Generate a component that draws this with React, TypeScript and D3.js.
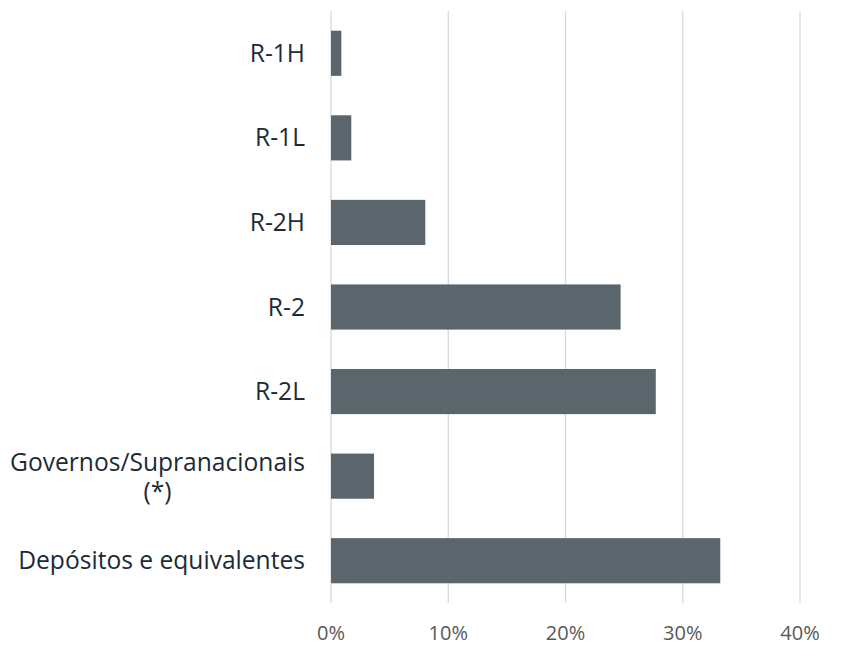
import React, { useEffect, useRef } from "react";
import * as d3 from "d3";

const categories: string[][] = [
  ["R-1H"],
  ["R-1L"],
  ["R-2H"],
  ["R-2"],
  ["R-2L"],
  ["Governos/Supranacionais", "(*)"],
  ["Depósitos e equivalentes"],
];
const values: number[] = [0.88, 1.73, 8.04, 24.7, 27.7, 3.67, 33.2];
const xTicks: number[] = [0, 10, 20, 30, 40];

const W = 843;
const H = 646;
const FONT = "'Open Sans', 'Noto Sans', sans-serif";

export default function App() {
  const ref = useRef<SVGSVGElement>(null);

  useEffect(() => {
    const svg = d3.select(ref.current);
    svg.selectAll("*").remove();

    const x = d3.scaleLinear().domain([0, 40]).range([331, 800]);
    const keys = categories.map((_, i) => String(i));
    const y = d3
      .scaleBand<string>()
      .domain(keys)
      .range([11, 603])
      .paddingInner(0.466)
      .paddingOuter(0.233);

    // grid
    svg
      .append("g")
      .selectAll("line")
      .data(xTicks)
      .join("line")
      .attr("x1", (d) => x(d))
      .attr("x2", (d) => x(d))
      .attr("y1", 11)
      .attr("y2", 603)
      .attr("stroke", "#d9d9d9")
      .attr("stroke-width", 1.3);

    // bars
    svg
      .append("g")
      .selectAll("rect")
      .data(values)
      .join("rect")
      .attr("x", x(0))
      .attr("y", (_, i) => y(keys[i])!)
      .attr("width", (d) => x(d) - x(0))
      .attr("height", y.bandwidth())
      .attr("fill", "#5b666c");

    // x tick labels
    svg
      .append("g")
      .selectAll("text")
      .data(xTicks)
      .join("text")
      .attr("x", (d) => x(d))
      .attr("y", 633)
      .attr("dy", "0.35em")
      .attr("text-anchor", "middle")
      .attr("font-family", FONT)
      .attr("font-size", 20)
      .attr("fill", "#595959")
      .text((d) => `${d}%`);

    // category labels
    const labelRight = 305;
    const lineH = 29;
    const FS = 24.6;
    const g = svg.append("g");
    categories.forEach((lines, i) => {
      const cy = y(keys[i])! + y.bandwidth() / 2;
      if (lines.length === 1) {
        g.append("text")
          .attr("x", labelRight)
          .attr("y", cy)
          .attr("dy", "0.35em")
          .attr("text-anchor", "end")
          .attr("font-family", FONT)
          .attr("font-size", FS)
          .attr("fill", "#1c2b36")
          .text(lines[0]);
      } else {
        const texts = lines.map((t, j) =>
          g
            .append("text")
            .attr("y", cy + 1 + (j - (lines.length - 1) / 2) * lineH)
            .attr("dy", "0.35em")
            .attr("text-anchor", "middle")
            .attr("font-family", FONT)
            .attr("font-size", FS)
            .attr("fill", "#1c2b36")
            .text(t)
        );
        const maxW = d3.max(texts, (t) => (t.node() as SVGTextElement).getComputedTextLength()) || 0;
        texts.forEach((t) => t.attr("x", labelRight - maxW / 2));
      }
    });
  }, []);

  return <svg ref={ref} width={W} height={H} style={{ display: "block", position: "absolute", left: 0, top: 0 }} />;
}
